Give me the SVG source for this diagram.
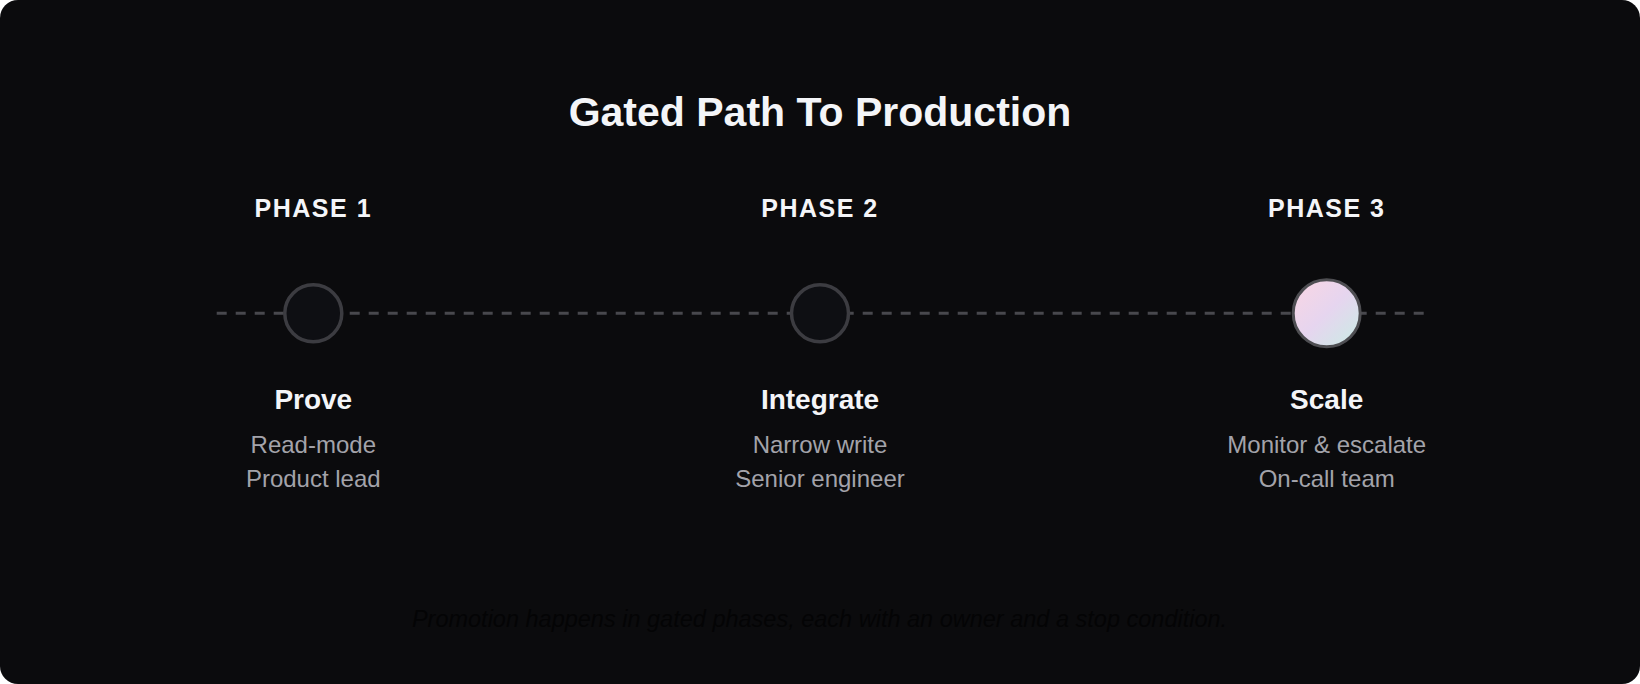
<svg xmlns="http://www.w3.org/2000/svg" width="1640" height="684" viewBox="0 0 1640 684">
  <defs>
    <linearGradient id="scaleGrad" x1="0" y1="0" x2="1" y2="1">
      <stop offset="0" stop-color="#fad6e3"/>
      <stop offset="0.5" stop-color="#e6d5ef"/>
      <stop offset="1" stop-color="#c9ede4"/>
    </linearGradient>
    <style>
      .title { font-family: 'Segoe UI', 'Liberation Sans', Arial, sans-serif; font-size: 41px; font-weight: 700; fill: #f4f5f8; text-anchor: middle; }
      .phase { font-family: 'Segoe UI', 'Liberation Sans', Arial, sans-serif; font-size: 25px; font-weight: 700; fill: #f4f5f8; text-anchor: middle; letter-spacing: 1.5px; }
      .head { font-family: 'Segoe UI', 'Liberation Sans', Arial, sans-serif; font-size: 28px; font-weight: 700; fill: #f4f5f8; text-anchor: middle; }
      .sub { font-family: 'Segoe UI', 'Liberation Sans', Arial, sans-serif; font-size: 24px; fill: #a3a3aa; text-anchor: middle; }
      .foot { font-family: 'Segoe UI', 'Liberation Sans', Arial, sans-serif; font-size: 23.5px; font-style: italic; fill: #040405; text-anchor: middle; }
      .dot { fill: #0e0f13; stroke: #3c3c41; stroke-width: 3.5; }
      .dot-active { fill: url(#scaleGrad); stroke: #4e4e52; stroke-width: 3; }
      .track { stroke: #48484d; stroke-width: 3; stroke-dasharray: 10 9; fill: none; }
    </style>
  </defs>

  <rect x="0" y="0" width="1640" height="684" fill="#ffffff"/>
  <rect x="0" y="0" width="1640" height="684" rx="18" ry="18" fill="#0b0b0d"/>

  <text class="title" x="820" y="126">Gated Path To Production</text>

  <g id="connectors">
    <line class="track" x1="216.7" y1="313.3" x2="1424" y2="313.3"/>
  </g>

  <g id="phase1">
    <text class="phase" x="313.3" y="217">PHASE 1</text>
    <circle class="dot" cx="313.3" cy="313.3" r="28.5"/>
    <text class="head" x="313.3" y="409.3">Prove</text>
    <text class="sub" x="313.3" y="453">Read-mode</text>
    <text class="sub" x="313.3" y="486.7">Product lead</text>
  </g>

  <g id="phase2">
    <text class="phase" x="820" y="217">PHASE 2</text>
    <circle class="dot" cx="820" cy="313.3" r="28.5"/>
    <text class="head" x="820" y="409.3">Integrate</text>
    <text class="sub" x="820" y="453">Narrow write</text>
    <text class="sub" x="820" y="486.7">Senior engineer</text>
  </g>

  <g id="phase3">
    <text class="phase" x="1326.7" y="217">PHASE 3</text>
    <circle class="dot-active" cx="1326.7" cy="313.3" r="33.5"/>
    <text class="head" x="1326.7" y="409.3">Scale</text>
    <text class="sub" x="1326.7" y="453">Monitor &amp; escalate</text>
    <text class="sub" x="1326.7" y="486.7">On-call team</text>
  </g>

  <text class="foot" x="819.5" y="627.3">Promotion happens in gated phases, each with an owner and a stop condition.</text>
</svg>
